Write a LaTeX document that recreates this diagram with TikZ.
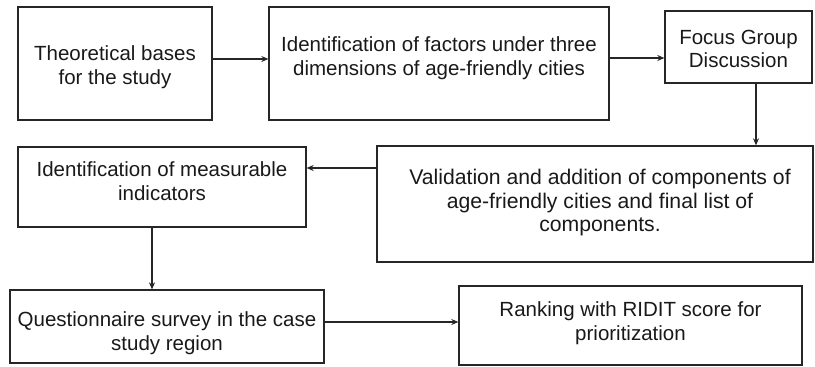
\documentclass[tikz,border=0pt]{standalone}
\usepackage{fontspec}
\setmainfont{Liberation Sans}
\usetikzlibrary{arrows.meta}
\begin{document}
\begin{tikzpicture}[x=1pt,y=-1pt,
  box/.style={draw=black!85,line width=1.3pt,inner sep=0pt},
  txt/.style={inner sep=0pt,align=center,font=\fontsize{20.5}{23.5}\selectfont,text=black!90},
  arr/.style={draw=black!85,line width=1.3pt,-{Stealth[length=7pt,width=6pt]}}]
\useasboundingbox (0,0) rectangle (815,367);
\node[box,minimum width=194pt,minimum height=113pt] (b1) at (115,63.5) {};
\node[box,minimum width=340pt,minimum height=113pt] (b2) at (439,63.5) {};
\node[box,minimum width=147pt,minimum height=72pt] (b3) at (738.5,47) {};
\node[box,minimum width=436pt,minimum height=116pt] (b4) at (595,204) {};
\node[box,minimum width=288pt,minimum height=80pt] (b5) at (162,187) {};
\node[box,minimum width=314pt,minimum height=73pt] (b6) at (167,326.5) {};
\node[box,minimum width=343pt,minimum height=79pt] (b7) at (630.5,325.5) {};
\node[txt] (t1) at (115,67) {Theoretical bases\\for the study};
\node[txt] (t2) at (439,58) {Identification of factors under three\\dimensions of age-friendly cities};
\node[txt] (t3) at (738.5,49) {Focus Group\\Discussion};
\node[txt,font=\fontsize{21.2}{23.5}\selectfont] (t4) at (600,203) {Validation and addition of components of\\age-friendly cities and final list of\\components.};
\node[txt] (t5) at (162,181) {Identification of measurable\\indicators};
\node[txt] (t6) at (167,333) {Questionnaire survey in the case\\study region};
\node[txt] (t7) at (630.5,323) {Ranking with RIDIT score for\\prioritization};
\draw[arr] ([yshift=4.5pt]b1.east) -- ([yshift=4.5pt]b2.west);
\draw[arr] ([yshift=5.5pt]b2.east) -- ([yshift=5.5pt]b2.east -| b3.west);
\draw[arr] ([xshift=17.5pt]b3.south) -- ([xshift=17.5pt]b3.south |- b4.north);
\draw[arr] ([yshift=36pt]b4.west) -- ([yshift=36pt]b4.west -| b5.east);
\draw[arr] ([xshift=-10pt]b5.south) -- ([xshift=-10pt]b5.south |- b6.north);
\draw[arr] ([yshift=4.5pt]b6.east) -- ([yshift=4.5pt]b6.east -| b7.west);
\end{tikzpicture}
\end{document}
